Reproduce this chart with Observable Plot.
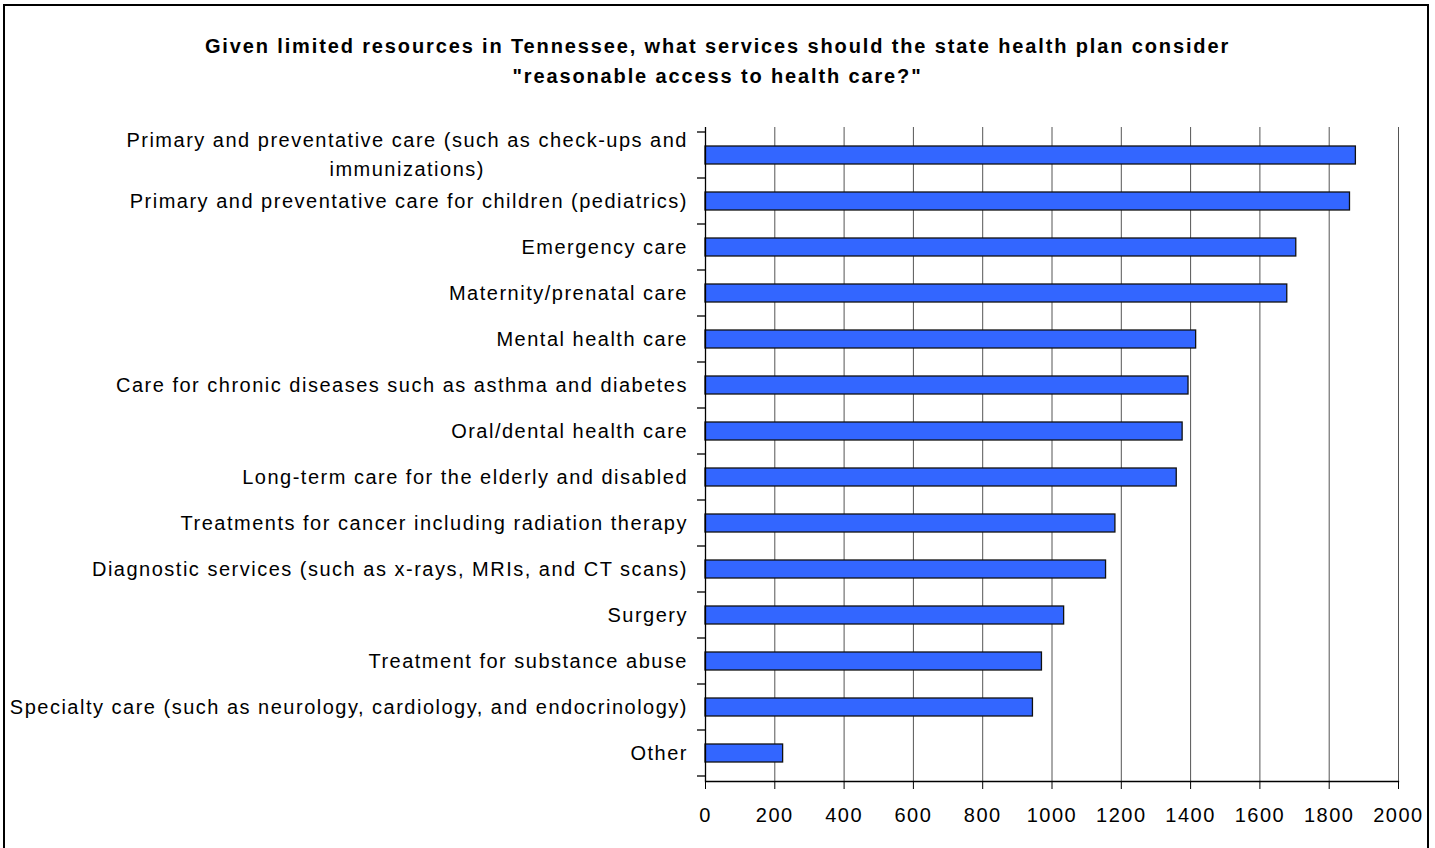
<!DOCTYPE html>
<html>
<head>
<meta charset="utf-8">
<script src="https://cdn.jsdelivr.net/npm/d3@7"></script>
<script src="https://cdn.jsdelivr.net/npm/@observablehq/plot@0.6"></script>
<style>
  html, body { margin: 0; padding: 0; background: #fff; }
  #wrap { position: relative; width: 1435px; height: 848px; overflow: hidden; background: #fff; font-family: "Liberation Sans", Arial, sans-serif; }
  #frame { position: absolute; left: 3px; top: 4px; width: 1422px; height: 900px; border: 2px solid #000; border-bottom: none; pointer-events: none; }
  #title { height: 112px; box-sizing: border-box; padding-top: 31px; text-align: center; font-weight: bold; font-size: 20px; letter-spacing: 1.87px; line-height: 30px; color: #000; }
  #chart svg { display: block; }
</style>
</head>
<body>
<div id="wrap">
  <div id="title">Given limited resources in Tennessee, what services should the state health plan consider<br>"reasonable access to health care?"</div>
  <div id="chart"></div>
  <div id="frame"></div>
</div>
<script>
const categories = [
  "Primary and preventative care (such as check-ups and immunizations)",
  "Primary and preventative care for children (pediatrics)",
  "Emergency care",
  "Maternity/prenatal care",
  "Mental health care",
  "Care for chronic diseases such as asthma and diabetes",
  "Oral/dental health care",
  "Long-term care for the elderly and disabled",
  "Treatments for cancer including radiation therapy",
  "Diagnostic services (such as x-rays, MRIs, and CT scans)",
  "Surgery",
  "Treatment for substance abuse",
  "Specialty care (such as neurology, cardiology, and endocrinology)",
  "Other"
];
const labels = [
  "Primary and preventative care (such as check-ups and\nimmunizations)",
  "Primary and preventative care for children (pediatrics)",
  "Emergency care",
  "Maternity/prenatal care",
  "Mental health care",
  "Care for chronic diseases such as asthma and diabetes",
  "Oral/dental health care",
  "Long-term care for the elderly and disabled",
  "Treatments for cancer including radiation therapy",
  "Diagnostic services (such as x-rays, MRIs, and CT scans)",
  "Surgery",
  "Treatment for substance abuse",
  "Specialty care (such as neurology, cardiology, and endocrinology)",
  "Other"
];
const values = [1877, 1860, 1705, 1679, 1416, 1394, 1377, 1360, 1183, 1156, 1035, 971, 945, 224];
const xTicks = [0, 200, 400, 600, 800, 1000, 1200, 1400, 1600, 1800, 2000];

const rows = categories.map((c, i) => ({category: c, label: labels[i], value: values[i]}));

const chart = Plot.plot({
  width: 1435,
  height: 736,
  marginTop: 15,
  marginBottom: 67,
  marginLeft: 705,
  marginRight: 37,
  style: {fontFamily: "'Liberation Sans', Arial, sans-serif", fontSize: "20px", letterSpacing: "1.5px", color: "#000", background: "transparent", overflow: "visible"},
  x: {domain: [0, 2000], ticks: xTicks, tickFormat: d => String(d)},
  y: {domain: categories, paddingInner: 0.615, paddingOuter: 0.3075, axis: null},
  marks: [
    Plot.gridX(xTicks, {stroke: "#555", strokeOpacity: 1, strokeWidth: 1}),
    Plot.barX(rows, {x: "value", y: "category", fill: "#3366FF", stroke: "#111", strokeWidth: 1.3}),
    Plot.ruleX([0], {stroke: "#000", strokeWidth: 1.3}),
    Plot.frame({anchor: "bottom", stroke: "#000", strokeWidth: 1.3}),
    Plot.axisX({ticks: xTicks, tickFormat: d => String(d), tickSize: 8, tickPadding: 18, label: null, fontSize: 20, stroke: "#000"}),
    Plot.text(rows, {y: "category", text: "label", frameAnchor: "left", dx: -17.5, dy: -3, textAnchor: "end", lineAnchor: "middle", lineHeight: 1.42, fontSize: 20, fill: "#000"})
  ]
});

document.getElementById("chart").appendChild(chart);

// category boundary tick marks on the y axis, from the band scale
const ys = chart.scale("y");
const xs = chart.scale("x");
const x0 = xs.apply(0);
const gap = (ys.step - ys.bandwidth) / 2;
const svg = d3.select(chart);
const g = svg.append("g").attr("stroke", "#000").attr("stroke-width", 1.3);
categories.forEach(c => {
  const yb = ys.apply(c) - gap;
  g.append("line").attr("x1", x0 - 8).attr("x2", x0).attr("y1", yb).attr("y2", yb);
});
const last = ys.apply(categories[categories.length - 1]) + ys.bandwidth + gap;
g.append("line").attr("x1", x0 - 8).attr("x2", x0).attr("y1", last).attr("y2", last);

// center the wrapped second line under the first, as the original does
svg.selectAll("text").each(function() {
  const tspans = this.querySelectorAll("tspan");
  if (tspans.length === 2) {
    const w = tspans[0].getComputedTextLength();
    tspans[1].setAttribute("x", -w / 2);
    tspans[1].setAttribute("text-anchor", "middle");
  }
});
</script>
</body>
</html>
